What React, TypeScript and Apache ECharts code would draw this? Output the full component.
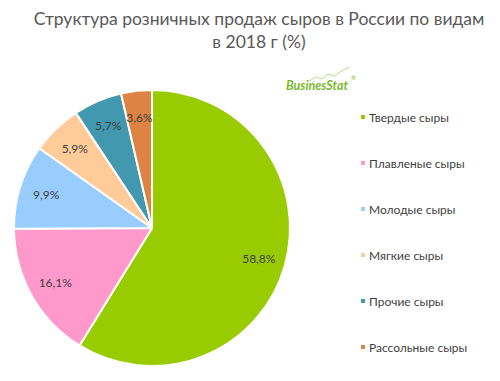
import React, { useEffect, useRef } from "react";
import * as echarts from "echarts";

const categories = [
  "Твердые сыры",
  "Плавленые сыры",
  "Молодые сыры",
  "Мягкие сыры",
  "Прочие сыры",
  "Рассольные сыры",
];
const values = [58.8, 16.1, 9.9, 5.9, 5.7, 3.6];
const colors = ["#99cc00", "#ff99cc", "#99ccff", "#ffcc99", "#4198af", "#dd8444"];
const titleText = "Структура розничных продаж сыров в России по видам\nв 2018 г (%)";

const FONT = "Lato, 'Open Sans', sans-serif";

export default function App() {
  const ref = useRef<HTMLDivElement>(null);
  useEffect(() => {
    document.body.style.margin = "0";
    const chart = echarts.init(ref.current!, null, { renderer: "svg" });
    const data = categories.map((name, i) => ({
      name,
      value: values[i],
      itemStyle: { color: colors[i] },
    }));
    chart.setOption({
      animation: false,
      title: {
        text: titleText,
        left: 254,
        textAlign: "center",
        top: 2,
        textStyle: {
          fontFamily: FONT,
          fontSize: 17.5,
          fontWeight: "normal",
          color: "#595959",
          lineHeight: 23,
        },
      },
      legend: {
        orient: "vertical",
        left: 354,
        top: 105,
        itemWidth: 6,
        itemHeight: 6,
        itemGap: 32,
        icon: "rect",
        data: categories,
        textStyle: {
          fontFamily: FONT,
          fontSize: 12,
          color: "#404040",
          lineHeight: 14,
          padding: [0, 0, 0, -2],
        },
      },
      graphic: [
        {
          type: "polyline",
          shape: {
            points: [
              [309, 81],
              [316, 77],
              [322, 79],
              [328, 74],
              [334, 76],
              [340, 72],
              [349, 67],
            ],
          },
          style: { stroke: "#b8db8c", lineWidth: 1, fill: null },
          silent: true,
        },
        {
          type: "text",
          x: 286,
          y: 79,
          style: {
            text: "BusinesStat",
            fontFamily: FONT,
            fontSize: 12.5,
            fontStyle: "italic",
            fontWeight: "bold",
            fill: "#7cb82f",
          },
          silent: true,
        },
        {
          type: "text",
          x: 351,
          y: 74,
          style: { text: "®", fontSize: 6, fill: "#7cb82f", fontFamily: FONT },
          silent: true,
        },
      ],
      series: [
        {
          type: "pie",
          center: [152, 228],
          radius: [0, 138],
          startAngle: 90,
          clockwise: true,
          data,
          label: { show: false },
          labelLine: { show: false },
          itemStyle: { borderColor: "#ffffff", borderWidth: 2 },
          emphasis: { disabled: true },
          silent: true,
        },
        {
          type: "pie",
          center: [152, 228],
          radius: [78, 138],
          startAngle: 90,
          clockwise: true,
          data: categories.map((name, i) => ({ name, value: values[i] })),
          itemStyle: { color: "rgba(0,0,0,0)", borderWidth: 0 },
          label: {
            show: true,
            position: "inside",
            fontFamily: FONT,
            fontSize: 12,
            color: "#404040",
            formatter: (p: any) => p.value.toFixed(1).replace(".", ",") + "%",
          },
          labelLine: { show: false },
          emphasis: { disabled: true },
          silent: true,
          legendHoverLink: false,
        },
      ],
    });
    return () => chart.dispose();
  }, []);
  return <div ref={ref} style={{ width: 500, height: 381 }} />;
}
